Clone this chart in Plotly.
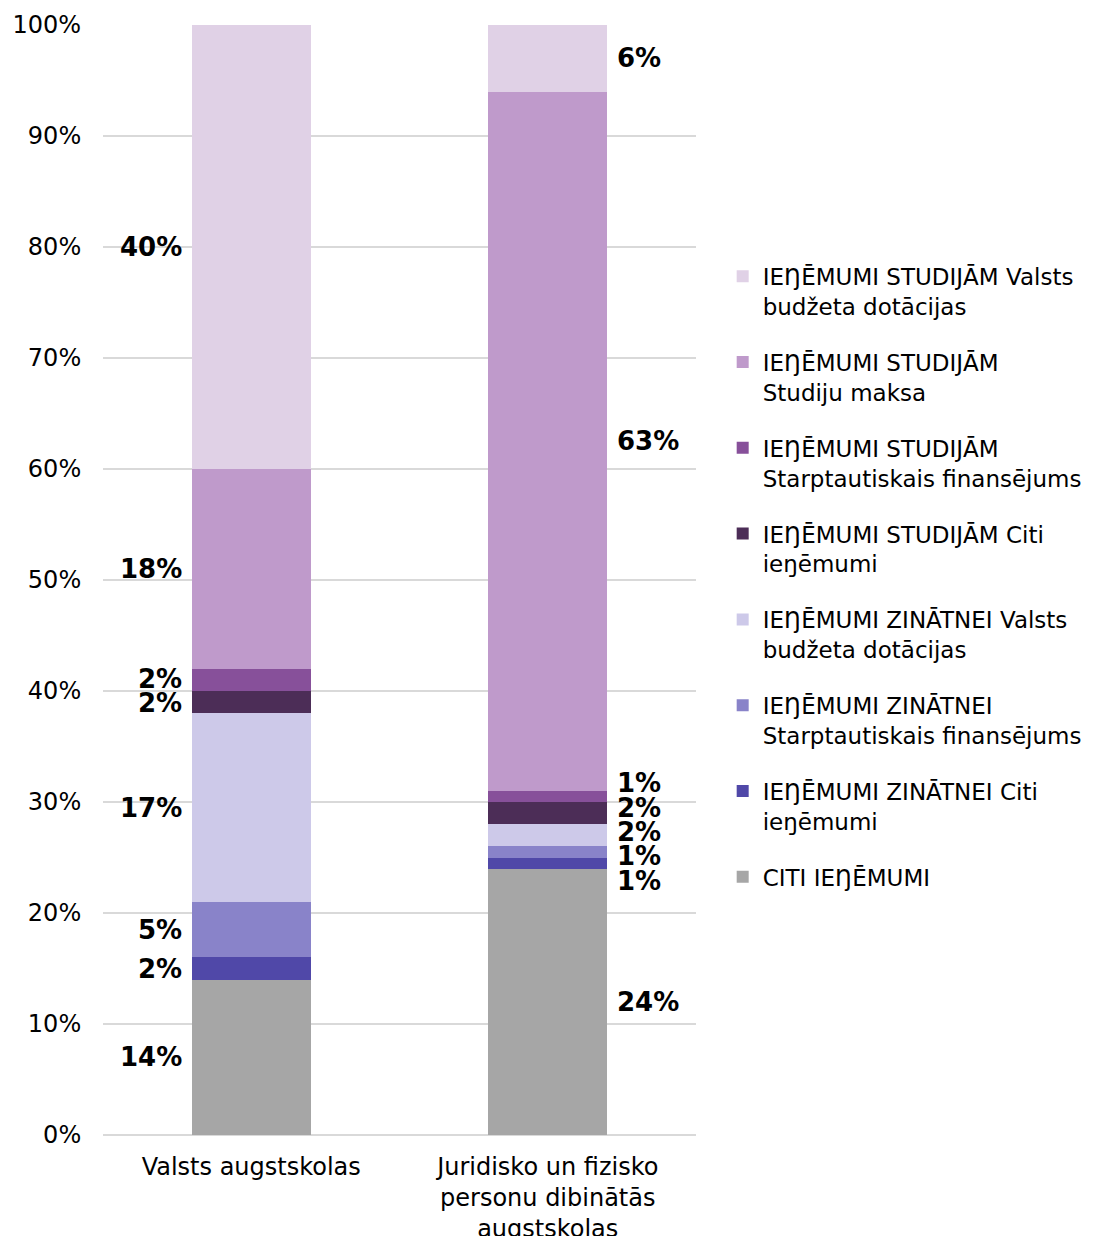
import plotly.graph_objects as go

categories = ["Valsts augstskolas", "Juridisko un fizisko<br>personu dibinātās<br>augstskolas"]

# series, bottom to top of the stack
series_names = [
    "CITI IEŊĒMUMI",
    "IEŊĒMUMI ZINĀTNEI Citi<br>ieŋēmumi",
    "IEŊĒMUMI ZINĀTNEI<br>Starptautiskais finansējums",
    "IEŊĒMUMI ZINĀTNEI Valsts<br>budžeta dotācijas",
    "IEŊĒMUMI STUDIJĀM Citi<br>ieŋēmumi",
    "IEŊĒMUMI STUDIJĀM<br>Starptautiskais finansējums",
    "IEŊĒMUMI STUDIJĀM<br>Studiju maksa",
    "IEŊĒMUMI STUDIJĀM Valsts<br>budžeta dotācijas",
]
valsts_values = [14, 2, 5, 17, 2, 2, 18, 40]
juridisko_values = [24, 1, 1, 2, 2, 1, 63, 6]
colors = ["#A6A6A6", "#5048A8", "#8983C9", "#CDC9E9", "#4C2D57", "#87509A", "#BF9ACB", "#E0D1E6"]

tick_vals = [0, 10, 20, 30, 40, 50, 60, 70, 80, 90, 100]
tick_text = [f"{v}%" for v in tick_vals]

FONT = "DejaVu Sans, Verdana, sans-serif"

fig = go.Figure()
n = len(series_names)
for i, name in enumerate(series_names):
    fig.add_trace(go.Bar(
        x=categories,
        y=[valsts_values[i], juridisko_values[i]],
        name=name,
        marker=dict(color=colors[i], line=dict(width=0)),
        legendgroup=f"g{i}",
        legendrank=n - i,
    ))


def spread(mids, gap):
    pos = list(mids)
    for _ in range(200):
        moved = False
        for k in range(len(pos) - 1):
            d = pos[k + 1] - pos[k]
            if d < gap - 1e-9:
                push = (gap - d) / 2
                pos[k] -= push
                pos[k + 1] += push
                moved = True
        if not moved:
            break
    return pos


annotations = []
for ci, vals in enumerate([valsts_values, juridisko_values]):
    mids = []
    cum = 0
    for v in vals:
        mids.append(cum + v / 2)
        cum += v
    pos = spread(mids, 2.2)
    for v, p in zip(vals, pos):
        annotations.append(dict(
            x=categories[ci], y=p, xref="x", yref="y",
            text=f"<b>{v}%</b>", showarrow=False,
            xanchor="right" if ci == 0 else "left",
            yanchor="middle",
            xshift=-67 if ci == 0 else 67,
            font=dict(family=FONT, size=26, color="#000000"),
        ))

fig.update_layout(
    barmode="stack",
    bargap=0.6,
    width=1092, height=1228,
    margin=dict(l=95, r=404, t=17, b=101),
    plot_bgcolor="white", paper_bgcolor="white",
    font=dict(family=FONT, size=24, color="#000000"),
    annotations=annotations,
    showlegend=True,
    legend=dict(
        x=1.045, y=0.793, xanchor="left", yanchor="top",
        traceorder="grouped",
        tracegroupgap=23,
        valign="top",
        itemwidth=30,
        font=dict(family=FONT, size=23, color="#000000"),
        bgcolor="rgba(0,0,0,0)",
    ),
    xaxis=dict(
        type="category",
        automargin=False,
        showgrid=False,
        showline=False,
        ticks="outside", ticklen=10, tickcolor="rgba(0,0,0,0)",
        tickfont=dict(family=FONT, size=24, color="#000000"),
    ),
    yaxis=dict(
        range=[0, 100],
        automargin=False,
        tickvals=tick_vals, ticktext=tick_text,
        showgrid=True, gridcolor="#D9D9D9", gridwidth=1.5,
        zeroline=True, zerolinecolor="#D9D9D9", zerolinewidth=1.5,
        showline=False,
        ticks="outside", ticklen=16, tickcolor="rgba(0,0,0,0)",
        tickfont=dict(family=FONT, size=24, color="#000000"),
    ),
)

fig.write_html("out.html")
